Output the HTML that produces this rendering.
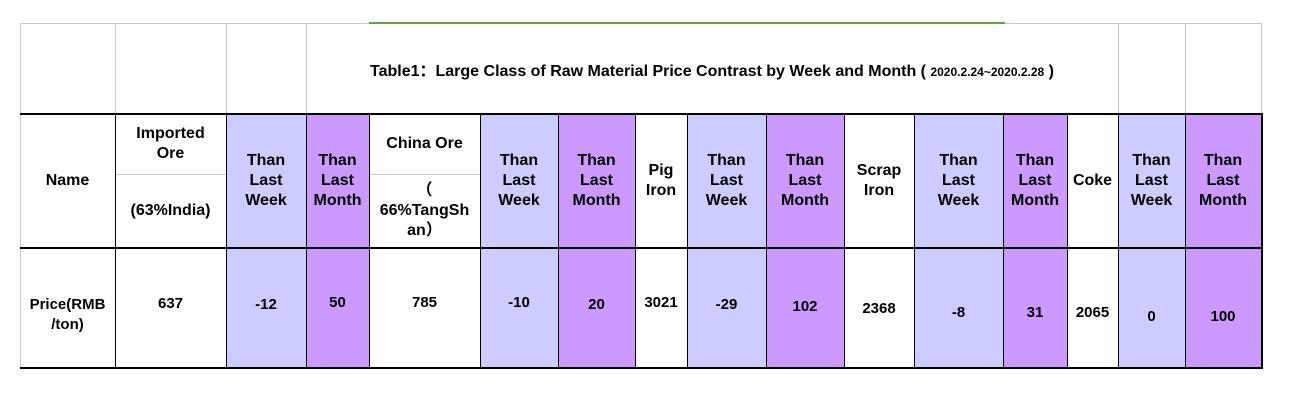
<!DOCTYPE html>
<html><head><meta charset="utf-8"><style>
body{margin:0;width:1292px;height:416px;background:#fff;position:relative;overflow:hidden;font-family:"Liberation Sans","Noto Sans CJK SC",sans-serif;font-weight:bold;color:#000}
.a{position:absolute}
.c{position:absolute;display:flex;align-items:center;justify-content:center;text-align:center;font-size:16px;line-height:20px;white-space:nowrap}
</style></head><body>
<div class="a" style="left:226px;top:114px;width:80px;height:254px;background:#ccccff"></div>
<div class="a" style="left:306px;top:114px;width:63px;height:254px;background:#cc99ff"></div>
<div class="a" style="left:480px;top:114px;width:78px;height:254px;background:#ccccff"></div>
<div class="a" style="left:558px;top:114px;width:77px;height:254px;background:#cc99ff"></div>
<div class="a" style="left:687px;top:114px;width:79px;height:254px;background:#ccccff"></div>
<div class="a" style="left:766px;top:114px;width:78px;height:254px;background:#cc99ff"></div>
<div class="a" style="left:914px;top:114px;width:89px;height:254px;background:#ccccff"></div>
<div class="a" style="left:1003px;top:114px;width:64px;height:254px;background:#cc99ff"></div>
<div class="a" style="left:1118px;top:114px;width:67px;height:254px;background:#ccccff"></div>
<div class="a" style="left:1185px;top:114px;width:76px;height:254px;background:#cc99ff"></div>
<div class="a" style="left:20px;top:23px;width:349px;height:1px;background:#c8c8c8"></div>
<div class="a" style="left:1003px;top:23px;width:258px;height:1px;background:#c8c8c8"></div>
<div class="a" style="left:369px;top:22px;width:636px;height:2px;background:#5fa83a"></div>
<div class="a" style="left:20px;top:23px;width:1px;height:345px;background:#c8c8c8"></div>
<div class="a" style="left:115px;top:23px;width:1px;height:91px;background:#c8c8c8"></div>
<div class="a" style="left:226px;top:23px;width:1px;height:91px;background:#c8c8c8"></div>
<div class="a" style="left:306px;top:23px;width:1px;height:91px;background:#c8c8c8"></div>
<div class="a" style="left:1118px;top:23px;width:1px;height:91px;background:#c8c8c8"></div>
<div class="a" style="left:1185px;top:23px;width:1px;height:91px;background:#c8c8c8"></div>
<div class="a" style="left:1261px;top:23px;width:1px;height:91px;background:#c8c8c8"></div>
<div class="a" style="left:20px;top:113px;width:1243px;height:2px;background:#000"></div>
<div class="a" style="left:20px;top:247px;width:1243px;height:2px;background:#000"></div>
<div class="a" style="left:20px;top:367px;width:1243px;height:2px;background:#000"></div>
<div class="a" style="left:1261px;top:113px;width:2px;height:256px;background:#000"></div>
<div class="a" style="left:115px;top:174px;width:111px;height:1px;background:#c8c8c8"></div>
<div class="a" style="left:369px;top:174px;width:111px;height:1px;background:#c8c8c8"></div>
<div class="a" style="left:115px;top:114px;width:1px;height:254px;background:#000"></div>
<div class="a" style="left:226px;top:114px;width:1px;height:254px;background:#000"></div>
<div class="a" style="left:306px;top:114px;width:1px;height:254px;background:#000"></div>
<div class="a" style="left:369px;top:114px;width:1px;height:254px;background:#000"></div>
<div class="a" style="left:480px;top:114px;width:1px;height:254px;background:#000"></div>
<div class="a" style="left:558px;top:114px;width:1px;height:254px;background:#000"></div>
<div class="a" style="left:635px;top:114px;width:1px;height:254px;background:#000"></div>
<div class="a" style="left:687px;top:114px;width:1px;height:254px;background:#000"></div>
<div class="a" style="left:766px;top:114px;width:1px;height:254px;background:#000"></div>
<div class="a" style="left:844px;top:114px;width:1px;height:254px;background:#000"></div>
<div class="a" style="left:914px;top:114px;width:1px;height:254px;background:#000"></div>
<div class="a" style="left:1003px;top:114px;width:1px;height:254px;background:#000"></div>
<div class="a" style="left:1067px;top:114px;width:1px;height:254px;background:#000"></div>
<div class="a" style="left:1118px;top:114px;width:1px;height:254px;background:#000"></div>
<div class="a" style="left:1185px;top:114px;width:1px;height:254px;background:#000"></div>
<div class="c" style="left:306px;top:60px;width:812px;height:24px;font-size:16px">Table1：Large Class of Raw Material Price Contrast by Week and Month (&nbsp;<span style="font-size:12px">2020.2.24~2020.2.28</span>&nbsp;)</div>
<div class="c" style="left:20px;top:114px;width:95px;height:134px">Name</div>
<div class="c" style="left:115px;top:114px;width:111px;height:60px">Imported<br>Ore</div>
<div class="c" style="left:115px;top:174px;width:111px;height:74px">(63%India)</div>
<div class="c" style="left:226px;top:114px;width:80px;height:134px">Than<br>Last<br>Week</div>
<div class="c" style="left:306px;top:114px;width:63px;height:134px">Than<br>Last<br>Month</div>
<div class="c" style="left:369px;top:114px;width:111px;height:60px">China Ore</div>
<div class="c" style="left:369px;top:174px;width:111px;height:74px">（<br>66%TangSh<br>an）</div>
<div class="c" style="left:480px;top:114px;width:78px;height:134px">Than<br>Last<br>Week</div>
<div class="c" style="left:558px;top:114px;width:77px;height:134px">Than<br>Last<br>Month</div>
<div class="c" style="left:635px;top:114px;width:52px;height:134px">Pig<br>Iron</div>
<div class="c" style="left:687px;top:114px;width:79px;height:134px">Than<br>Last<br>Week</div>
<div class="c" style="left:766px;top:114px;width:78px;height:134px">Than<br>Last<br>Month</div>
<div class="c" style="left:844px;top:114px;width:70px;height:134px">Scrap<br>Iron</div>
<div class="c" style="left:914px;top:114px;width:89px;height:134px">Than<br>Last<br>Week</div>
<div class="c" style="left:1003px;top:114px;width:64px;height:134px">Than<br>Last<br>Month</div>
<div class="c" style="left:1067px;top:114px;width:51px;height:134px">Coke</div>
<div class="c" style="left:1118px;top:114px;width:67px;height:134px">Than<br>Last<br>Week</div>
<div class="c" style="left:1185px;top:114px;width:76px;height:134px">Than<br>Last<br>Month</div>
<div class="c" style="left:20px;top:295px;width:95px;height:40px;font-size:15px">Price(RMB<br>/ton)</div>
<div class="c" style="left:115px;top:294px;width:111px;height:20px;font-size:15px">637</div>
<div class="c" style="left:226px;top:295px;width:80px;height:20px;font-size:15px">-12</div>
<div class="c" style="left:306px;top:293px;width:63px;height:20px;font-size:15px">50</div>
<div class="c" style="left:369px;top:293px;width:111px;height:20px;font-size:15px">785</div>
<div class="c" style="left:480px;top:293px;width:78px;height:20px;font-size:15px">-10</div>
<div class="c" style="left:558px;top:295px;width:77px;height:20px;font-size:15px">20</div>
<div class="c" style="left:635px;top:293px;width:52px;height:20px;font-size:15px">3021</div>
<div class="c" style="left:687px;top:295px;width:79px;height:20px;font-size:15px">-29</div>
<div class="c" style="left:766px;top:297px;width:78px;height:20px;font-size:15px">102</div>
<div class="c" style="left:844px;top:299px;width:70px;height:20px;font-size:15px">2368</div>
<div class="c" style="left:914px;top:303px;width:89px;height:20px;font-size:15px">-8</div>
<div class="c" style="left:1003px;top:303px;width:64px;height:20px;font-size:15px">31</div>
<div class="c" style="left:1067px;top:303px;width:51px;height:20px;font-size:15px">2065</div>
<div class="c" style="left:1118px;top:307px;width:67px;height:20px;font-size:15px">0</div>
<div class="c" style="left:1185px;top:307px;width:76px;height:20px;font-size:15px">100</div>
</body></html>
